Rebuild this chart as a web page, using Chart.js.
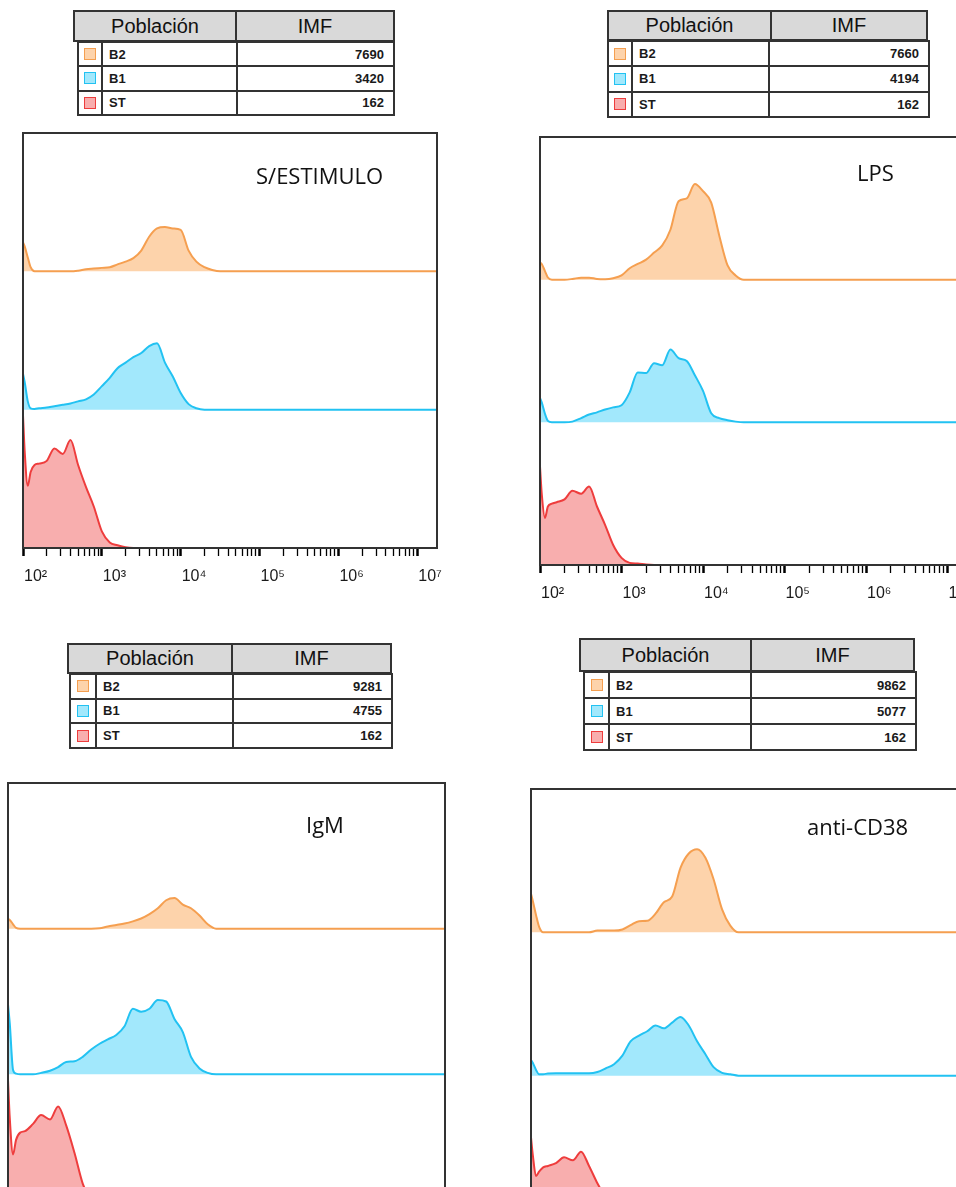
<!DOCTYPE html>
<html lang="es">
<head>
<meta charset="UTF-8">
<title>IMF por población</title>
<style>
  html, body { margin: 0; padding: 0; background: #fff; }
  body { position: relative; width: 956px; height: 1187px; overflow: hidden;
         font-family: "Liberation Sans", Arial, sans-serif; }
  canvas { position: absolute; }
  .hdr { position: absolute; display: flex; box-sizing: border-box; background: #d9d9d9;
         border: 2px solid #333; font-size: 20px; color: #111; z-index: 2; }
  .hdr div { display: flex; align-items: center; justify-content: center; box-sizing: border-box; }
  .hdr div + div { border-left: 2px solid #333; flex: 1; }
  table.pop { position: absolute; border-collapse: collapse; table-layout: fixed;
              font-size: 13px; font-weight: bold; color: #1a1a1a; z-index: 1; }
  table.pop td { border: 2px solid #333; padding: 0; }
  table.pop td.name { padding-left: 6px; }
  table.pop td.val { text-align: right; padding-right: 9px; }
  .sw { width: 12px; height: 12px; margin: auto; box-sizing: border-box; border: 1.5px solid; }
  .tag { position: absolute; font-family: "Open Sans", sans-serif; font-size: 22px;
         line-height: 26px; color: #111; white-space: nowrap; z-index: 3; }
</style>
</head>
<body>
<script src="https://cdn.jsdelivr.net/npm/chart.js"></script>
<script>
// populations and IMF per stimulus
const populations = ['B2', 'B1', 'ST'];
const imfSinEstimulo = [7690, 3420, 162];
const imfLps = [7660, 4194, 162];
const imfIgm = [9281, 4755, 162];
const imfAntiCd38 = [9862, 5077, 162];

// x axis: decade ticks and labels
const decadeTicks = [1e2, 1e3, 1e4, 1e5, 1e6, 1e7];
const decadeLabels = ['10²', '10³', '10⁴', '10⁵', '10⁶', '10⁷'];
const axisMin = 100;
const axisMax = 17800000;

// fluorescence channels (shared by every histogram)
const intensity = [100, 105, 115, 125, 140, 160, 200, 250, 320, 400, 500, 630, 790, 1000,
  1260, 1580, 2000, 2510, 3160, 3980, 5010, 6310, 7940, 10000, 12600, 15800, 20000,
  25100, 31600, 17800000];

// normalised counts (% of the lane height)
const sinEstB2 = [21, 18, 10, 3, 0, 0, 0, 0, 0, 0, 0.5, 1.5, 2, 2.5, 3, 5, 7, 9.5, 15, 25, 31, 32, 31, 30, 15, 7, 3, 1, 0, 0];
const sinEstB1 = [26, 20, 6, 1, 0.5, 1, 1.5, 2.5, 3.5, 4.5, 6, 7.5, 11, 17, 23, 30, 34, 38, 41, 46, 48, 34, 24, 12, 4, 1, 0, 0, 0, 0];
const sinEstSt = [96, 70, 45, 55, 60, 61, 63, 72, 68, 78, 60, 44, 30, 12, 4, 2, 0.5, 0, 0, 0, 0, 0, 0, 0, 0, 0, 0, 0, 0, 0];

const lpsB2 = [12, 11, 6, 1.5, 0, 0, 0, 0.5, 1.4, 1.4, 0.5, 0.3, 1, 3, 8, 11, 14, 19, 24, 35, 55, 57, 67, 62, 54, 31, 10, 3, 0, 0];
const lpsB1 = [17, 14, 6, 1, 0, 0, 0, 0.5, 3, 5.5, 7, 9, 10.5, 12, 21, 35, 34.5, 41.5, 40, 51, 45, 43, 33, 22, 6.3, 3, 1.5, 0.5, 0, 0];
const lpsSt = [69, 50, 33, 41, 43, 44, 46, 52, 50, 55, 41, 28, 14, 5, 1.5, 1, 0.3, 0, 0, 0, 0, 0, 0, 0, 0, 0, 0, 0, 0, 0];

const igmB2 = [6.7, 6, 3, 0.5, 0, 0, 0, 0, 0, 0, 0, 0, 0, 0, 0.3, 1.5, 2.5, 3.5, 5, 7, 10, 14, 19.5, 21, 16.5, 14, 9, 3, 0, 0];
const igmB1 = [48, 35, 3, 0.5, 0, 0, 0, 1, 2.5, 5, 8.5, 9, 12, 17, 21, 24, 27, 33, 45, 43, 45, 51, 50, 38, 29, 12, 4, 1, 0, 0];
const igmSt = [96, 70, 45, 55, 60, 61, 66, 72, 69, 78, 65, 46, 25, 12, 4, 1.5, 0.5, 0, 0, 0, 0, 0, 0, 0, 0, 0, 0, 0, 0, 0];

const cd38B2 = [27, 22, 12, 4, 0, 0, 0, 0, 0, 0, 0, 1.2, 1.2, 1.2, 2, 5, 7.8, 8, 13, 21, 25, 45, 55, 58, 52, 37, 16, 4.7, 0, 0];
const cd38B1 = [11, 9, 4, 1, 1, 1.5, 1.6, 1.6, 1.6, 1.6, 1.6, 2.5, 5, 8, 14, 24, 28, 31, 35, 33, 37, 41, 35, 24, 15, 6, 2, 1, 0, 0];
const cd38St = [57, 45, 30, 33, 36, 37, 39, 43, 41, 47, 37, 25, 15, 6, 2, 0.7, 0, 0, 0, 0, 0, 0, 0, 0, 0, 0, 0, 0, 0, 0];

// styles
const lineColors = ['#f59f50', '#22c2f2', '#ee3d3d'];
const fillColors = ['#fdd3ab', '#a2e8fc', '#f8aeae'];

// layout of the four panels
const panels = [
    { name: 'S/ESTIMULO', imf: imfSinEstimulo, series: [sinEstB2, sinEstB1, sinEstSt],
      box: { x: 23, y: 133, w: 414, h: 415 }, tag: { x: 256, y: 162 },
      hdr: { x: 73, y: 10, w: 322, h: 32, split: 160 },
      body: { x: 77, y: 41, w: 318, h: 75, c1: 24, c2: 135 } },
    { name: 'LPS', imf: imfLps, series: [lpsB2, lpsB1, lpsSt],
      box: { x: 540, y: 137, w: 428, h: 428 }, tag: { x: 857, y: 159 },
      hdr: { x: 607, y: 10, w: 321, h: 31, split: 161 },
      body: { x: 607, y: 40, w: 323, h: 78, c1: 24, c2: 137 } },
    { name: 'IgM', imf: imfIgm, series: [igmB2, igmB1, igmSt],
      box: { x: 8, y: 783, w: 437, h: 437 }, tag: { x: 306, y: 811 },
      hdr: { x: 67, y: 643, w: 325, h: 31, split: 162 },
      body: { x: 69, y: 673, w: 324, h: 76, c1: 26, c2: 137 } },
    { name: 'anti-CD38', imf: imfAntiCd38, series: [cd38B2, cd38B1, cd38St],
      box: { x: 531, y: 789, w: 436, h: 430 }, tag: { x: 807, y: 813 },
      hdr: { x: 579, y: 638, w: 336, h: 34, split: 169 },
      body: { x: 583, y: 671, w: 334, h: 80, c1: 25, c2: 142 } }
];

// all tick positions: decades plus 2..9 minors
const axisTicks = [];
decadeTicks.forEach((d, i) => {
    axisTicks.push(d);
    if (i < decadeTicks.length - 1) {
        for (let m = 2; m <= 9; m++) axisTicks.push(d * m);
    }
});

function decadeIndex(v) {
    return decadeTicks.findIndex(d => Math.abs(d - v) / d < 1e-9);
}

// frame around the plot area
const framePlugin = {
    id: 'frame',
    afterDatasetsDraw(chart) {
        const { ctx, chartArea: a } = chart;
        ctx.save();
        ctx.strokeStyle = '#333';
        ctx.lineWidth = 2;
        ctx.strokeRect(a.left, a.top, a.right - a.left, a.bottom - a.top);
        ctx.restore();
    }
};

function buildTable(p) {
    const hdr = document.createElement('div');
    hdr.className = 'hdr';
    Object.assign(hdr.style, { left: p.hdr.x + 'px', top: p.hdr.y + 'px',
        width: p.hdr.w + 'px', height: p.hdr.h + 'px' });
    hdr.innerHTML = `<div style="width:${p.hdr.split}px">Población</div><div>IMF</div>`;
    document.body.appendChild(hdr);

    const table = document.createElement('table');
    table.className = 'pop';
    Object.assign(table.style, { left: p.body.x + 'px', top: p.body.y + 'px',
        width: p.body.w + 'px', height: p.body.h + 'px' });
    let html = `<colgroup><col style="width:${p.body.c1}px"><col style="width:${p.body.c2}px"><col></colgroup>`;
    populations.forEach((pop, i) => {
        html += `<tr><td><div class="sw" style="border-color:${lineColors[i]};background:${fillColors[i]}"></div></td>` +
                `<td class="name">${pop}</td><td class="val">${p.imf[i]}</td></tr>`;
    });
    table.innerHTML = html;
    document.body.appendChild(table);
}

function buildChart(p) {
    const pad = { left: 30, right: 30, top: 6 };
    const axisH = 50;
    const canvas = document.createElement('canvas');
    canvas.width = p.box.w + pad.left + pad.right;
    canvas.height = p.box.h + pad.top + axisH;
    canvas.style.left = (p.box.x - pad.left) + 'px';
    canvas.style.top = (p.box.y - pad.top) + 'px';
    document.body.appendChild(canvas);

    // B2 on the top lane, B1 in the middle, ST at the bottom
    const datasets = p.series.map((counts, i) => {
        const base = (2 - i) * 100;
        return {
            label: populations[i],
            data: intensity.map((x, k) => ({ x: x, y: base + counts[k] })),
            borderColor: lineColors[i],
            backgroundColor: fillColors[i],
            borderWidth: 2,
            pointRadius: 0,
            cubicInterpolationMode: 'monotone',
            fill: { value: base }
        };
    });

    new Chart(canvas, {
        type: 'line',
        data: { datasets: datasets },
        options: {
            responsive: false,
            animation: false,
            devicePixelRatio: 1,
            layout: { padding: { left: pad.left, right: pad.right, top: pad.top, bottom: 0 } },
            plugins: { legend: { display: false }, tooltip: { enabled: false } },
            scales: {
                x: {
                    type: 'logarithmic',
                    min: axisMin,
                    max: axisMax,
                    afterBuildTicks: s => { s.ticks = axisTicks.map(v => ({ value: v })); },
                    afterFit: s => { s.height = axisH; },
                    border: { display: true, color: '#000', width: 2 },
                    grid: {
                        drawOnChartArea: false,
                        drawTicks: true,
                        tickLength: 8,
                        tickColor: '#000',
                        tickWidth: ctx => (ctx.tick && decadeIndex(ctx.tick.value) >= 0) ? 2.5 : 1.3
                    },
                    ticks: {
                        autoSkip: false,
                        maxRotation: 0,
                        align: 'start',
                        labelOffset: 1,
                        padding: 11,
                        color: '#1a1a1a',
                        font: { family: 'Liberation Sans', size: 16 },
                        callback: v => {
                            const i = decadeIndex(v);
                            return i >= 0 ? decadeLabels[i] : '';
                        }
                    }
                },
                y: { display: false, min: 0, max: 300 }
            }
        },
        plugins: [framePlugin]
    });

    const tag = document.createElement('div');
    tag.className = 'tag';
    tag.style.left = p.tag.x + 'px';
    tag.style.top = p.tag.y + 'px';
    tag.textContent = p.name;
    document.body.appendChild(tag);
}

panels.forEach(p => {
    buildTable(p);
    buildChart(p);
});
</script>
</body>
</html>
